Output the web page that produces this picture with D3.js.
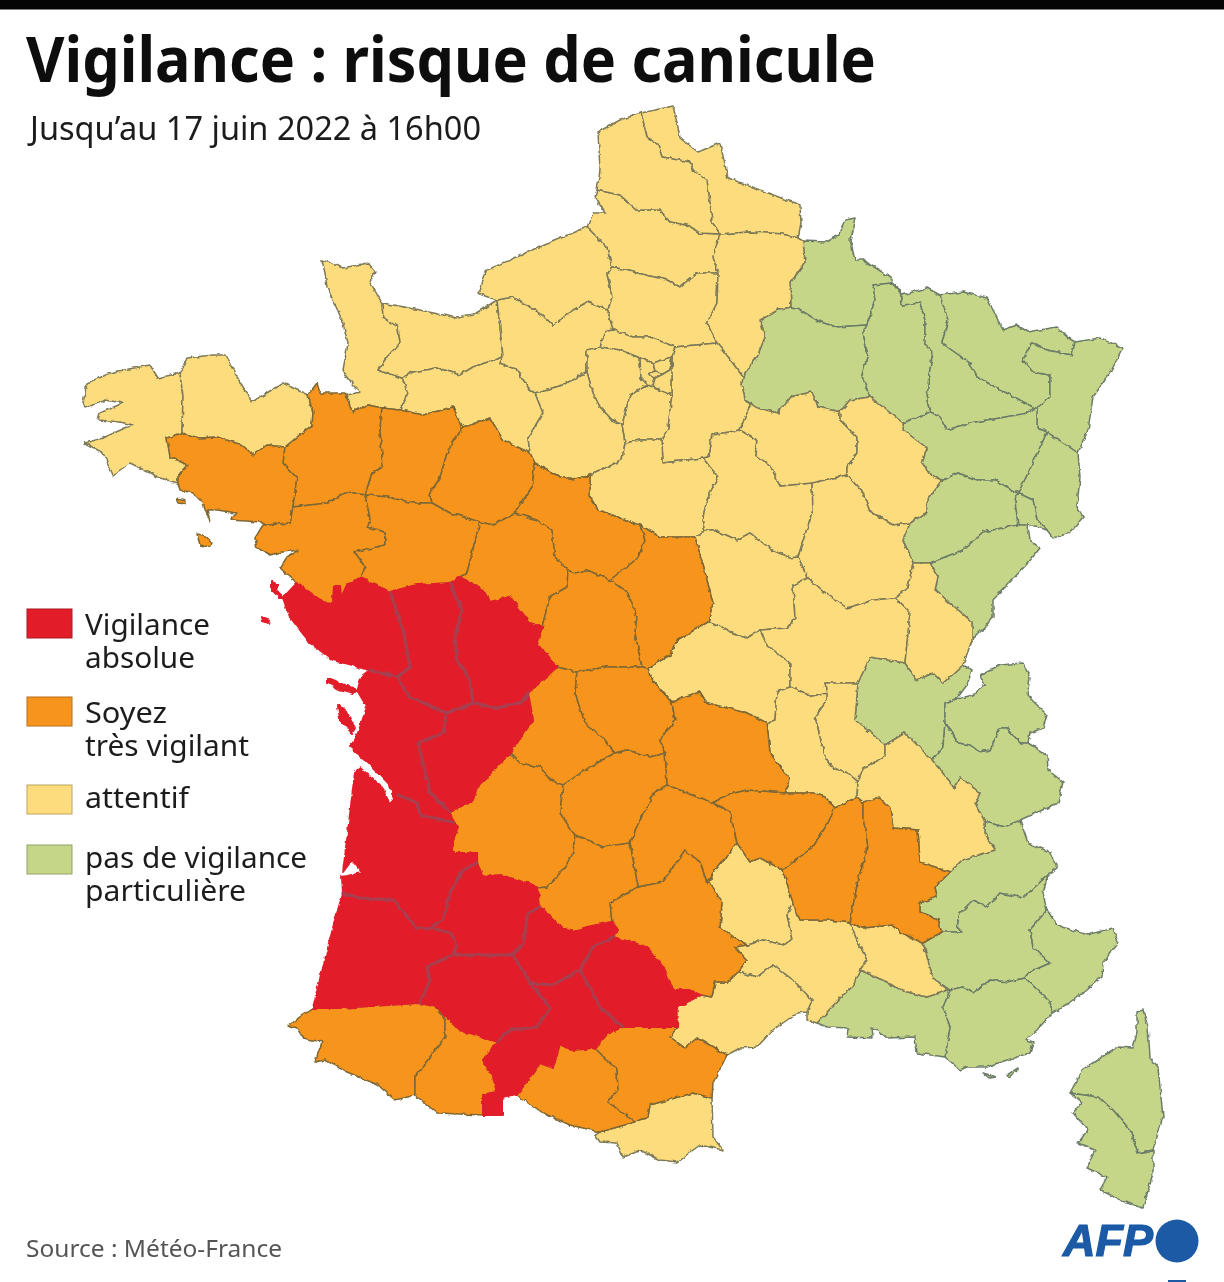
<!DOCTYPE html>
<html lang="fr"><head><meta charset="utf-8">
<script src="https://cdn.jsdelivr.net/npm/d3@7"></script>
<style>html,body{margin:0;padding:0;background:#fff}svg{display:block}text{font-family:"Noto Sans",sans-serif}</style>
</head><body><svg id="c" width="1224" height="1282"></svg>
<script>
const titre = "Vigilance : risque de canicule";
const sousTitre = "Jusqu’au 17 juin 2022 à 16h00";
const source = "Source : Météo-France";
const legende = [
  ["rouge", ["Vigilance","absolue"]],
  ["orange", ["Soyez","très vigilant"]],
  ["jaune", ["attentif"]],
  ["vert", ["pas de vigilance","particulière"]]
];
const couleurs = {rouge:"#e31f2c", orange:"#f7941e", jaune:"#fddc7d", vert:"#c5d688"};
const traits = {rouge:"#e31f2c", orange:"#7d6835", jaune:"#7c7a58", vert:"#6d7c68"};

const rouge = ["Vendée","Deux-Sèvres","Vienne","Charente-Maritime","Charente","Gironde","Landes","Lot-et-Garonne","Gers","Tarn-et-Garonne","Tarn","Haute-Garonne","Noirmoutier","Yeu","Ré","Oléron"];
const orange = ["Morbihan","Ille-et-Vilaine","Mayenne","Sarthe","Loire-Atlantique","Maine-et-Loire","Indre-et-Loire","Loir-et-Cher","Indre","Cher","Haute-Vienne","Creuse","Puy-de-Dôme","Dordogne","Corrèze","Cantal","Lot","Aveyron","Haute-Loire","Ardèche","Drôme","Pyrénées-Atlantiques","Hautes-Pyrénées","Ariège","Aude","Belle-Île","Groix"];
const jaune = ["Finistère","Côtes-d'Armor","Manche","Calvados","Orne","Eure","Seine-Maritime","Somme","Nord","Pas-de-Calais","Oise","Aisne","Val-d'Oise","Yvelines","Essonne","Seine-et-Marne","Hauts-de-Seine","Seine-Saint-Denis","Val-de-Marne","Paris","Eure-et-Loir","Loiret","Yonne","Aube","Haute-Marne","Côte-d'Or","Nièvre","Allier","Saône-et-Loire","Jura","Rhône","Loire","Isère","Lozère","Gard","Hérault","Vaucluse","Pyrénées-Orientales"];
const vert = ["Ardennes","Marne","Meuse","Meurthe-et-Moselle","Moselle","Bas-Rhin","Haut-Rhin","Vosges","Haute-Saône","Belfort","Doubs","Ain","Haute-Savoie","Savoie","Hautes-Alpes","Alpes-de-Haute-Provence","Alpes-Maritimes","Var","Bouches-du-Rhône","Haute-Corse","Corse-du-Sud","Porquerolles","Port-Cros"];

const contours = {
"Nord":"641,113 673,106 678,127 680,138 698,152 720,143 728,178 760,190 800,205 801,223 798,238 783,234 750,232 720,234 712,222 710,203 707,180 693,170 690,162 662,157 658,145 647,137",
"Pas-de-Calais":"641,113 647,137 658,145 662,157 690,162 693,170 707,180 710,203 712,222 720,234 700,233 687,225 670,222 660,210 637,210 620,195 597,190 600,170 598,132 620,120",
"Somme":"597,190 620,195 637,210 660,210 670,222 687,225 700,233 720,234 713,257 718,273 697,273 680,287 667,280 633,272 612,267 607,247 587,227 593,213 605,213 595,197",
"Aisne":"720,234 750,232 783,234 798,238 803,241 805,263 790,283 791,308 778,310 760,320 765,337 757,357 743,377 723,350 717,343 707,323 717,303 718,273 713,257",
"Seine-Maritime":"587,227 607,247 612,267 607,273 612,297 608,310 587,302 573,310 553,325 540,313 513,297 497,300 478,293 487,270 533,250",
"Manche":"322,260 343,268 367,263 375,272 370,282 382,303 383,317 398,327 400,343 387,357 378,370 402,378 408,393 400,410 382,408 368,405 352,412 347,395 360,392 353,385 343,370 348,343 342,320 327,287 325,273",
"Calvados":"382,303 410,308 457,318 473,315 497,300 500,327 503,357 473,367 460,375 437,368 413,372 402,378 378,370 387,357 400,343 398,327 383,317",
"Eure":"497,300 513,297 540,313 553,325 573,310 587,302 608,310 613,330 605,332 600,347 587,350 587,372 563,385 535,393 530,390 517,370 500,363 503,357 500,327",
"Orne":"402,378 413,372 437,368 460,375 473,367 503,357 500,363 517,370 530,390 535,393 543,413 528,438 530,453 503,440 490,418 463,428 453,407 423,415 400,410 408,393",
"Eure-et-Loir":"535,393 563,385 587,372 593,393 600,407 612,420 622,425 625,443 622,460 590,475 573,480 560,477 535,463 530,453 528,438 543,413",
"Oise":"612,267 633,272 667,280 680,287 697,273 718,273 717,303 707,323 717,343 675,347 650,337 633,337 613,330 608,310 612,297 607,273",
"Val-d'Oise":"605,332 613,330 633,337 650,337 675,347 672,357 653,363 640,358 620,350 600,347",
"Yvelines":"587,350 600,347 620,350 640,358 641,378 648,385 630,395 622,425 612,420 600,407 593,393 587,372",
"Essonne":"648,385 653,387 672,395 668,428 662,440 640,440 625,443 622,425 630,395",
"Seine-et-Marne":"675,347 717,343 723,350 743,377 742,383 745,400 750,405 740,430 712,435 708,457 703,458 663,463 662,440 668,428 672,395 672,357",
"Hauts-de-Seine":"640,358 653,363 655,371 648,374 655,378 653,387 648,385 641,378",
"Seine-Saint-Denis":"653,363 672,357 670,370 663,374 655,371",
"Val-de-Marne":"663,374 670,370 672,357 672,395 653,387 655,378",
"Paris":"648,374 655,371 663,374 655,378",
"Ardennes":"803,241 827,242 838,235 845,220 855,218 850,240 855,260 863,260 890,277 892,283 873,285 875,300 867,325 837,327 820,322 800,310 791,308 790,283 805,263",
"Marne":"791,308 800,310 820,322 837,327 867,325 863,333 868,355 862,375 868,392 870,397 850,400 840,412 818,407 812,392 790,397 778,413 757,408 745,400 742,383 743,377 757,357 765,337 760,320 778,310",
"Meuse":"873,285 892,283 900,290 902,305 920,303 925,320 925,345 933,352 929,375 927,400 930,412 903,423 870,397 868,392 862,375 868,355 863,333 867,325 875,300",
"Meurthe-et-Moselle":"892,283 902,295 927,288 940,295 948,320 942,343 970,363 977,377 1035,408 1028,413 1000,418 970,423 947,430 938,415 930,412 927,400 929,375 933,352 925,345 925,320 920,303 902,305 900,290",
"Moselle":"940,295 963,292 987,298 1003,330 1017,325 1028,332 1057,327 1067,337 1075,342 1072,355 1047,350 1032,342 1023,360 1033,372 1050,375 1050,397 1037,408 1035,408 977,377 970,363 942,343 948,320",
"Bas-Rhin":"1075,342 1100,338 1123,348 1110,373 1093,397 1088,430 1078,453 1047,432 1037,428 1037,408 1050,397 1050,375 1033,372 1023,360 1032,342 1047,350 1072,355",
"Haut-Rhin":"1047,432 1078,453 1080,477 1077,507 1083,517 1070,533 1053,538 1047,530 1037,520 1033,500 1018,493 1028,473 1040,447",
"Vosges":"903,423 930,412 938,415 947,430 970,423 1000,418 1028,413 1035,408 1037,408 1037,428 1047,432 1040,447 1028,473 1018,493 995,480 977,480 958,473 943,480 933,477 922,463 927,448 903,430",
"Haute-Marne":"870,397 903,423 903,430 927,448 922,463 933,477 943,480 927,500 927,512 910,523 893,525 870,512 863,493 847,475 847,467 857,453 857,437 840,420 840,412 850,400",
"Aube":"750,405 745,400 757,408 778,413 790,397 812,392 818,407 840,412 840,420 857,437 857,453 847,467 847,475 812,483 780,486 770,465 755,455 757,440 740,430",
"Yonne":"712,435 740,430 757,440 755,455 770,465 780,486 812,483 813,510 805,535 798,557 790,558 772,550 750,533 737,540 715,530 705,530 702,520 708,497 718,477 703,458 708,457",
"Loiret":"590,475 622,460 625,443 640,440 662,440 663,463 703,458 718,477 708,497 702,520 705,530 695,537 660,537 640,525 598,510 590,497",
"Sarthe":"463,428 490,418 503,440 530,453 535,463 532,487 515,513 493,525 480,522 450,513 432,503 430,493 440,478 447,453 458,433",
"Mayenne":"382,408 400,410 423,415 453,407 463,428 458,433 447,453 440,478 430,493 432,503 413,503 387,497 365,495 372,473 383,467 380,430",
"Ille-et-Vilaine":"308,395 317,383 320,393 345,393 352,412 368,405 382,408 380,430 383,467 372,473 365,495 347,492 327,503 293,507 297,478 283,463 285,447 312,425 313,413",
"Côtes-d'Armor":"180,373 187,358 213,355 225,355 237,377 252,402 283,383 297,390 308,395 313,413 312,425 285,447 267,445 253,455 242,445 217,437 200,438 182,433 183,397",
"Finistère":"83,403 87,383 113,372 150,365 158,378 180,373 183,397 182,433 167,438 170,457 188,465 178,477 178,483 160,478 130,463 113,475 103,453 85,443 103,438 125,428 133,425 120,422 98,420 100,413 123,403 105,400 85,408",
"Morbihan":"167,438 182,433 200,438 217,437 242,445 253,455 267,445 285,447 283,463 297,478 293,507 290,523 267,525 260,522 230,520 237,513 217,510 207,510 210,522 203,503 193,493 180,490 178,483 178,477 188,465 170,457",
"Belle-Île":"197,534 203,535 212,543 210,547 200,545",
"Groix":"177,499 185,501 185,504 179,503",
"Loire-Atlantique":"293,507 327,503 347,492 365,495 370,518 368,527 385,532 385,545 355,552 365,567 360,578 347,585 341,598 340,586 334,586 333,603 323,602 297,583 280,568 287,557 298,550 283,552 270,555 257,548 255,538 263,525 267,525 290,523",
"Maine-et-Loire":"365,495 387,497 413,503 432,503 450,513 480,522 467,573 460,577 450,583 417,585 390,592 360,578 365,567 355,552 385,545 385,532 368,527 370,518",
"Indre-et-Loire":"480,522 493,525 515,513 537,520 552,530 555,557 568,570 567,587 550,597 542,627 530,623 510,597 490,602 483,590 460,577 467,573",
"Loir-et-Cher":"535,463 560,477 573,480 590,475 590,497 598,510 640,525 645,540 638,558 610,580 587,570 575,573 568,570 555,557 552,530 537,520 515,513 532,487",
"Indre":"568,570 575,573 587,570 610,580 628,593 637,617 635,633 642,667 607,667 577,672 557,667 537,643 542,627 550,597 567,587",
"Cher":"640,525 660,537 695,537 703,565 713,603 708,622 677,640 670,655 648,668 642,667 635,633 637,617 628,593 610,580 638,558 645,540",
"Nièvre":"695,537 705,530 715,530 737,540 750,533 772,550 790,558 798,557 808,578 793,585 795,618 787,628 760,630 747,638 733,633 713,623 708,622 713,603 703,565",
"Côte-d'Or":"812,483 847,475 863,493 870,512 893,525 910,523 903,540 913,563 908,587 895,598 873,600 847,608 828,595 808,578 798,557 805,535 813,510",
"Haute-Saône":"943,480 958,473 977,480 995,480 1018,493 1015,500 1018,525 983,532 963,550 930,563 913,563 903,540 910,523 927,512 927,500",
"Belfort":"1018,493 1033,500 1037,520 1047,530 1028,525 1018,525 1015,500",
"Doubs":"930,563 963,550 983,532 1018,525 1028,525 1030,540 1040,548 1028,563 993,600 993,617 985,627 972,640 972,622 935,590 938,577",
"Jura":"913,563 930,563 938,577 935,590 972,622 972,640 963,665 943,683 933,673 917,680 905,663 910,613 895,598 908,587",
"Saône-et-Loire":"793,585 795,618 787,628 760,630 767,645 790,663 790,687 813,697 827,693 825,683 853,683 858,683 870,657 905,663 910,613 895,598 873,600 847,608 828,595 808,578",
"Allier":"648,668 670,655 677,640 708,622 713,623 733,633 747,638 760,630 767,645 790,663 790,687 777,692 775,720 767,723 747,713 707,703 700,692 683,697 672,703 650,677",
"Creuse":"577,672 607,667 642,667 648,668 650,677 672,703 675,720 660,740 665,753 650,757 627,750 615,753 600,735 585,723 575,693",
"Haute-Vienne":"557,667 577,672 575,693 585,723 600,735 615,753 590,767 563,785 550,780 540,767 520,763 510,753 533,720 528,693",
"Vienne":"460,577 483,590 490,602 510,597 530,623 542,627 537,643 557,667 528,693 522,702 497,708 473,703 470,680 457,660 455,637 462,610 450,583",
"Deux-Sèvres":"390,592 417,585 450,583 462,610 455,637 457,660 470,680 473,703 447,713 410,697 397,677 410,667 403,630",
"Vendée":"297,583 323,602 333,603 334,586 340,586 341,598 347,585 360,578 390,592 403,630 410,667 397,677 370,670 333,660 310,643 290,617 283,598",
"Charente-Maritime":"370,670 397,677 410,697 447,713 443,733 418,743 423,763 430,793 450,812 453,822 420,815 417,803 398,795 395,803 390,785 368,762 350,747 358,733 367,707 357,690 363,675",
"Charente":"447,713 473,703 497,708 522,702 528,693 533,720 510,753 477,787 473,800 450,812 430,793 423,763 418,743 443,733",
"Dordogne":"510,753 520,763 540,767 550,780 563,785 560,813 575,835 573,853 563,870 547,887 538,888 527,883 500,875 483,877 477,863 477,853 453,853 453,840 458,827 453,822 450,812 473,800 477,787",
"Corrèze":"563,785 590,767 615,753 627,750 650,757 665,753 667,785 655,792 640,820 630,843 603,847 575,835 560,813",
"Lot":"575,835 603,847 630,843 638,887 610,903 612,922 587,927 573,932 563,928 540,907 538,888 547,887 563,870 573,853",
"Puy-de-Dôme":"672,703 683,697 700,692 707,703 747,713 767,723 770,753 790,780 785,793 747,790 727,795 713,803 667,785 665,753 660,740 675,720",
"Cantal":"655,792 667,785 713,803 730,812 737,843 713,873 707,883 700,862 685,850 663,882 638,887 630,843 640,820",
"Haute-Loire":"747,790 785,793 813,793 825,797 835,808 828,823 813,847 783,870 760,858 750,862 737,843 730,812 713,803 727,795",
"Loire":"777,692 790,687 813,697 827,693 827,700 815,717 825,757 833,768 848,773 858,782 857,797 835,808 825,797 813,793 785,793 790,780 770,753 767,723 775,720",
"Rhône":"825,683 853,683 858,683 855,720 885,745 885,757 863,768 858,782 848,773 833,768 825,757 815,717 827,700 827,693",
"Ain":"858,683 870,657 905,663 917,680 933,673 943,683 963,665 972,670 967,685 958,697 953,700 945,703 945,723 943,747 932,760 905,733 885,745 855,720",
"Haute-Savoie":"945,703 953,700 973,695 985,685 980,675 1000,665 1023,663 1030,678 1027,695 1047,715 1043,728 1030,733 1028,743 1020,743 1007,728 1000,728 990,750 980,752 970,745 958,743 948,727 945,723",
"Savoie":"948,727 958,743 970,745 980,752 990,750 1000,728 1007,728 1020,743 1028,743 1047,755 1048,770 1063,782 1058,803 1020,820 1005,827 985,822 975,803 980,793 960,777 955,788 932,760 943,747 945,723",
"Isère":"885,745 905,733 932,760 955,788 960,777 980,793 975,803 985,822 985,833 995,850 962,860 950,872 920,862 918,830 893,828 890,808 880,798 863,802 857,797 858,782 863,768 885,757",
"Ardèche":"857,797 863,802 863,817 868,847 858,880 850,923 830,920 800,920 793,903 783,870 813,847 828,823 835,808",
"Drôme":"863,802 880,798 890,808 893,828 918,830 920,862 950,872 935,887 937,897 920,903 920,912 938,920 942,932 923,943 900,932 893,925 862,928 850,923 858,880 868,847 863,817",
"Hautes-Alpes":"950,872 962,860 995,850 985,833 985,822 1005,827 1020,820 1028,843 1050,852 1057,868 1048,875 1023,898 1000,893 988,907 973,900 960,913 957,927 962,932 942,932 938,920 920,912 920,903 937,897 935,887",
"Alpes-de-Haute-Provence":"923,943 942,932 962,932 957,927 960,913 973,900 988,907 1000,893 1023,898 1048,875 1043,893 1047,910 1030,930 1033,947 1050,963 1028,973 1025,978 1007,982 990,980 973,993 963,987 950,990 933,978 927,957",
"Alpes-Maritimes":"1047,910 1057,925 1087,935 1113,928 1118,942 1103,963 1102,977 1070,1003 1052,1013 1050,1002 1025,978 1028,973 1050,963 1033,947 1030,930",
"Var":"950,990 963,987 973,993 990,980 1007,982 1025,978 1050,1002 1052,1013 1037,1030 1025,1040 1033,1043 1030,1053 1007,1060 987,1067 967,1067 960,1070 945,1057 950,1027 943,1007",
"Bouches-du-Rhône":"817,1023 840,998 852,987 860,970 887,982 900,990 927,997 948,990 950,990 943,1007 950,1027 945,1057 917,1053 915,1037 887,1038 877,1030 872,1028 873,1038 847,1037 848,1028 827,1027",
"Vaucluse":"850,923 862,928 893,925 900,932 923,943 927,957 933,978 948,990 927,997 900,990 887,982 860,970 867,960 857,940",
"Gard":"787,915 793,903 800,920 830,920 850,923 857,940 867,960 860,970 852,987 840,998 817,1023 807,1020 807,1012 812,1000 793,980 773,965 757,977 738,972 747,960 735,947 748,945 763,940 783,945 792,940",
"Lozère":"737,843 750,862 760,858 783,870 793,903 787,915 792,940 783,945 763,940 748,945 732,937 720,927 722,903 710,882 713,873",
"Aveyron":"610,903 638,887 663,882 685,850 700,862 707,883 713,873 710,882 722,903 720,927 732,937 748,945 735,947 747,960 738,972 728,982 715,982 712,997 700,995 690,990 673,990 663,967 647,947 613,937 618,930 612,922",
"Hérault":"677,1027 678,1005 683,1005 700,995 712,997 715,982 728,982 738,972 757,977 773,965 793,980 812,1000 807,1012 797,1013 773,1030 757,1047 740,1048 727,1055 697,1038 685,1048 670,1037",
"Gironde":"355,772 360,768 380,785 390,804 398,795 417,803 420,815 453,822 458,827 453,840 453,853 477,853 477,863 463,870 450,893 443,920 430,928 417,928 393,900 360,898 343,893 342,877 362,873 352,860 343,872 347,840",
"Landes":"343,893 360,898 393,900 417,928 430,928 450,933 457,945 453,955 427,967 430,980 420,1003 340,1008 313,1008 320,980 335,920",
"Lot-et-Garonne":"463,870 477,863 483,877 500,875 527,883 538,888 540,907 528,913 523,943 513,955 453,955 457,945 450,933 430,928 443,920 450,893",
"Gers":"453,955 513,955 530,983 550,1008 537,1027 510,1030 497,1042 460,1030 437,1007 420,1003 430,980 427,967",
"Tarn-et-Garonne":"540,907 563,928 573,932 587,927 612,922 618,930 613,937 593,947 580,970 553,985 530,983 513,955 523,943 528,913",
"Tarn":"613,937 647,947 663,967 673,990 690,990 700,995 683,1005 678,1005 677,1027 623,1027 600,1007 580,970 593,947",
"Haute-Garonne":"530,983 553,985 580,970 600,1007 623,1027 608,1033 595,1048 573,1050 560,1045 553,1068 540,1063 517,1095 502,1098 502,1115 483,1115 483,1095 497,1092 493,1077 483,1060 497,1042 510,1030 537,1027 550,1008",
"Ariège":"517,1095 540,1063 553,1068 560,1045 573,1050 595,1048 617,1070 618,1090 608,1102 635,1122 600,1132 570,1125 543,1113",
"Aude":"595,1048 608,1033 623,1027 677,1027 670,1037 685,1048 697,1038 727,1055 713,1083 712,1098 693,1093 650,1105 648,1117 635,1122 608,1102 618,1090 617,1070",
"Pyrénées-Orientales":"595,1135 600,1132 635,1122 648,1117 650,1105 693,1093 712,1098 713,1137 723,1150 700,1145 677,1162 660,1160 640,1150 623,1157 617,1143 600,1142",
"Pyrénées-Atlantiques":"288,1025 313,1008 340,1008 420,1003 437,1007 445,1020 445,1037 415,1077 415,1095 395,1100 378,1085 347,1072 325,1060 315,1062 322,1042 303,1038 297,1028",
"Hautes-Pyrénées":"437,1007 460,1030 497,1042 483,1060 493,1077 497,1092 483,1095 483,1115 437,1113 415,1095 415,1077 445,1037 445,1020",
"Haute-Corse":"1137,1012 1143,1010 1148,1027 1150,1057 1158,1067 1163,1117 1153,1150 1138,1153 1130,1130 1113,1110 1098,1097 1070,1093 1082,1070 1117,1047 1133,1048 1137,1033",
"Corse-du-Sud":"1070,1093 1098,1097 1113,1110 1130,1130 1138,1153 1153,1150 1153,1173 1143,1208 1127,1203 1100,1190 1107,1177 1087,1168 1095,1150 1078,1143 1088,1130 1073,1113 1082,1102",
"Noirmoutier":"272,582 278,585 276,590 283,597 280,598 272,590",
"Yeu":"262,617 270,620 269,623 263,621",
"Ré":"328,678 340,683 357,690 354,693 338,689 328,683",
"Oléron":"338,705 346,712 355,728 352,733 340,720",
"Porquerolles":"983,1073 990,1075 995,1077 989,1078",
"Port-Cros":"1007,1075 1018,1068 1018,1070 1009,1077"
};

const w = 1224, h = 1282;
const svg = d3.select("#c");
const defs = svg.append("defs");
const f = defs.append("filter").attr("id","rugueux").attr("filterUnits","userSpaceOnUse")
  .attr("x",0).attr("y",0).attr("width",w).attr("height",h);
f.append("feTurbulence").attr("type","fractalNoise").attr("baseFrequency",0.16).attr("numOctaves",2).attr("seed",4).attr("result","n");
f.append("feDisplacementMap").attr("in","SourceGraphic").attr("in2","n").attr("scale",4).attr("xChannelSelector","R").attr("yChannelSelector","G").attr("result","d");
f.append("feGaussianBlur").attr("in","d").attr("stdDeviation",0.45);
const flou = defs.append("filter").attr("id","flou");
flou.append("feGaussianBlur").attr("stdDeviation",0.5);

svg.append("rect").attr("width",w).attr("height",h).attr("fill","#fff");
svg.append("rect").attr("width",w).attr("height",9.5).attr("fill","#050505");

const ring = s => s.split(" ").map(p => p.split(",").map(Number));
const feature = (nom, niveau) => {
  const r = ring(contours[nom]);
  return {type:"Feature", properties:{nom, niveau}, geometry:{type:"Polygon", coordinates:[[...r, r[0]]]}};
};
const path = d3.geoPath(d3.geoIdentity());
const carte = svg.append("g").attr("filter","url(#rugueux)");
const niveaux = {vert, jaune, orange, rouge};
for (const [niveau, noms] of Object.entries(niveaux)) {
  carte.append("g").attr("class", niveau).selectAll("path")
    .data(noms.map(n => feature(n, niveau))).join("path")
    .attr("d", path).attr("fill", couleurs[niveau]).attr("stroke", traits[niveau])
    .attr("stroke-width", niveau === "rouge" ? 2 : 1.5).attr("stroke-linejoin","round")
    .append("title").text(d => d.properties.nom);
}
// frontières intérieures de la zone rouge : arêtes communes à deux départements rouges
const aretes = new Map();
rouge.forEach(n => {
  const r = ring(contours[n]);
  r.forEach((a, i) => {
    const b = r[(i + 1) % r.length];
    const k = [a.join(), b.join()].sort().join("|");
    aretes.set(k, {seg:[a, b], n:(aretes.get(k)?.n || 0) + 1});
  });
});
const interieur = [...aretes.values()].filter(e => e.n > 1).map(e => e.seg);
carte.append("path").datum({type:"MultiLineString", coordinates:interieur}).attr("d", path)
  .attr("fill","none").attr("stroke","#a43f50").attr("stroke-width",3).attr("stroke-linecap","round");

const t = svg.append("g").attr("filter","url(#flou)");
t.append("text").attr("x",26).attr("y",82).attr("font-size",62).attr("font-weight",700).attr("fill","#0a0a0a")
  .attr("textLength",850).attr("lengthAdjust","spacingAndGlyphs").text(titre);
t.append("text").attr("x",30).attr("y",140).attr("font-size",33).attr("font-weight",400).attr("fill","#1a1a1a")
  .attr("textLength",451).attr("lengthAdjust","spacingAndGlyphs").text(sousTitre);
const largeurs = {"Vigilance":125,"absolue":110,"Soyez":82,"très vigilant":164,"attentif":104,"pas de vigilance":222,"particulière":161};
const hauts = d3.scaleOrdinal().domain(legende.map(d => d[0])).range([609,697,785,845]);
const decalages = d3.scaleOrdinal().domain(legende.map(d => d[0])).range([26,26,23,23]);
const leg = t.selectAll("g.l").data(legende).join("g").attr("class","l");
leg.append("rect").attr("x",27).attr("y",d => hauts(d[0])).attr("width",45).attr("height",29)
  .attr("fill",d => couleurs[d[0]]).attr("stroke",d => d3.color(couleurs[d[0]]).darker(0.8)).attr("stroke-width",1);
leg.append("text").attr("font-size",29).attr("fill","#1c1c1c").each(function(d){
  d[1].forEach((l,i) => d3.select(this).append("tspan").attr("x",85).attr("y",hauts(d[0])+decalages(d[0])+33*i)
    .attr("textLength",largeurs[l]).attr("lengthAdjust","spacingAndGlyphs").text(l));
});
t.append("text").attr("x",26).attr("y",1257).attr("font-size",24).attr("fill","#555")
  .attr("textLength",256).attr("lengthAdjust","spacingAndGlyphs").text(source);
t.append("text").attr("x",1063).attr("y",1256).attr("font-size",45).attr("font-weight",700).attr("font-style","italic")
  .style("font-family","Liberation Sans").attr("fill","#1a5aa6").attr("textLength",90).attr("lengthAdjust","spacingAndGlyphs")
  .attr("stroke","#1a5aa6").attr("stroke-width",1.2).text("AFP");
t.append("circle").attr("cx",1177).attr("cy",1241).attr("r",21.5).attr("fill","#1a5aa6");
t.append("rect").attr("x",1168).attr("y",1280).attr("width",18).attr("height",2).attr("fill","#1a5aa6");
</script></body></html>
